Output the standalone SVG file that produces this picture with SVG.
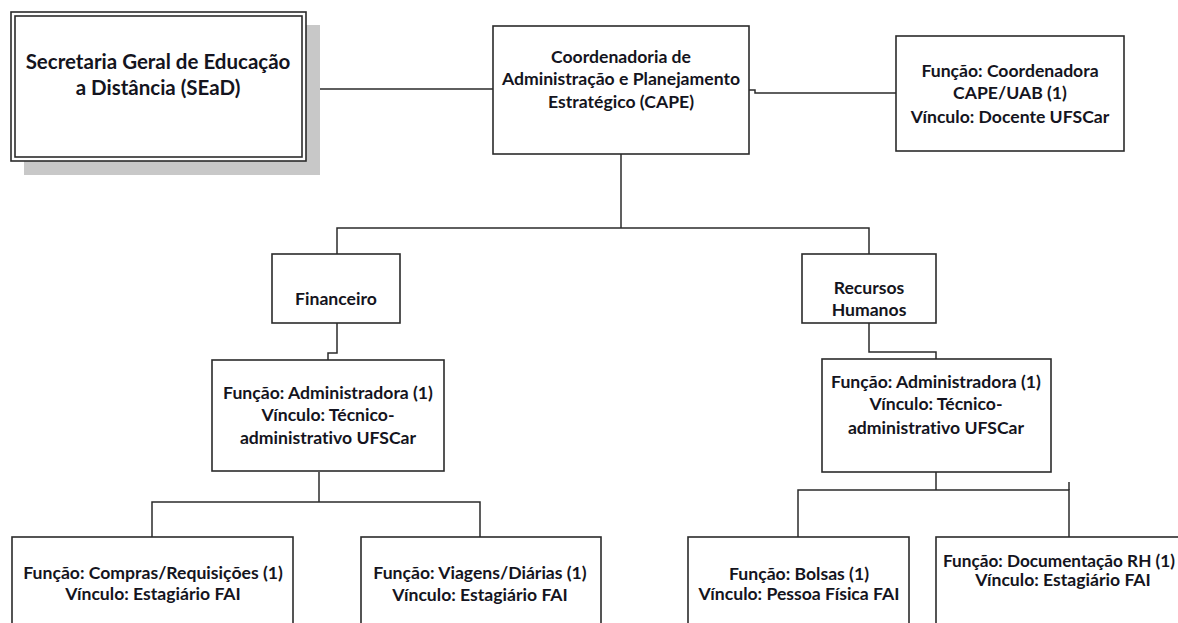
<svg xmlns="http://www.w3.org/2000/svg" width="1178" height="623" viewBox="0 0 1178 623">
<style>
.box{fill:#fff;stroke:#2b2b2b;stroke-width:1.6}
.ln{fill:none;stroke:#2b2b2b;stroke-width:1.5}
text{font-family:Lato,"Liberation Sans",sans-serif;font-weight:bold;font-size:17.6px;fill:#141420;text-anchor:middle;font-variant-ligatures:none;font-feature-settings:"liga" 0}
.big{font-size:20.5px}
</style>
<rect width="1178" height="623" fill="#fff"/>
<g id="connectors">
<path class="ln" d="M306,86 H313 V89 H493"/>
<path class="ln" d="M749,90 H755 V93 H896"/>
<path class="ln" d="M621,154 V228"/>
<path class="ln" d="M337,254 V228 H869 V254"/>
<path class="ln" d="M337,323 V353 H328 V360"/>
<path class="ln" d="M869,323 V352 H936 V359"/>
<path class="ln" d="M319,472 V502"/>
<path class="ln" d="M152,537 V502 H480 V537"/>
<path class="ln" d="M936,472 V490"/>
<path class="ln" d="M798,537 V490 H1069 V537"/>
<path class="ln" d="M1069,482 V490"/>
</g>
<g id="sead">
<rect x="24" y="25" width="296" height="150" fill="#c8c8c8"/>
<rect class="box" x="11" y="12" width="295" height="149"/>
<rect class="box" x="15" y="16" width="287" height="141"/>
<text class="big" x="158" y="69">Secretaria Geral de Educação</text>
<text class="big" x="158" y="95">a Distância (SEaD)</text>
</g>
<g id="cape">
<rect class="box" x="493" y="26" width="256" height="128"/>
<text x="621" y="63">Coordenadoria de</text>
<text x="621" y="85">Administração e Planejamento</text>
<text x="621" y="108">Estratégico (CAPE)</text>
</g>
<g id="coord">
<rect class="box" x="896" y="36" width="228" height="115"/>
<text x="1010" y="77">Função: Coordenadora</text>
<text x="1010" y="99">CAPE/UAB (1)</text>
<text x="1010" y="123">Vínculo: Docente UFSCar</text>
</g>
<g id="financeiro">
<rect class="box" x="272" y="254" width="128" height="69"/>
<text x="336" y="305">Financeiro</text>
</g>
<g id="rh">
<rect class="box" x="802" y="254" width="134" height="69"/>
<text x="869" y="294">Recursos</text>
<text x="869" y="316">Humanos</text>
</g>
<g id="admin-fin">
<rect class="box" x="212" y="360" width="232" height="111"/>
<text x="328" y="399">Função: Administradora (1)</text>
<text x="328" y="421">Vínculo: Técnico-</text>
<text x="328" y="444">administrativo UFSCar</text>
</g>
<g id="admin-rh">
<rect class="box" x="822" y="359" width="229" height="113"/>
<text x="936" y="388">Função: Administradora (1)</text>
<text x="936" y="410">Vínculo: Técnico-</text>
<text x="936" y="434">administrativo UFSCar</text>
</g>
<g id="compras">
<rect class="box" x="12" y="537" width="281" height="110"/>
<text x="153" y="579">Função: Compras/Requisições (1)</text>
<text x="153" y="600">Vínculo: Estagiário FAI</text>
</g>
<g id="viagens">
<rect class="box" x="361" y="537" width="240" height="110"/>
<text x="480" y="579">Função: Viagens/Diárias (1)</text>
<text x="480" y="601">Vínculo: Estagiário FAI</text>
</g>
<g id="bolsas">
<rect class="box" x="688" y="537" width="221" height="110"/>
<text x="799" y="580">Função: Bolsas (1)</text>
<text x="799" y="600">Vínculo: Pessoa Física FAI</text>
</g>
<g id="doc-rh">
<rect class="box" x="936" y="537" width="260" height="110"/>
<text x="1175" y="567" style="text-anchor:end;font-size:17.2px">Função: Documentação RH (1)</text>
<text x="1063" y="586">Vínculo: Estagiário FAI</text>
</g>
</svg>
